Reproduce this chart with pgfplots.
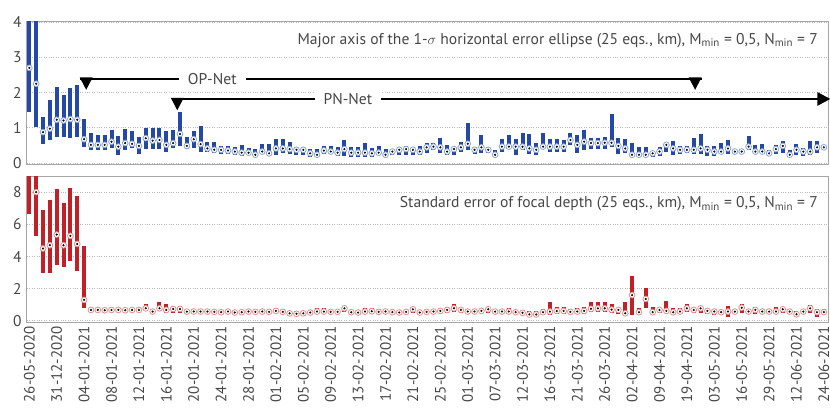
\documentclass[border=0pt]{standalone}
\usepackage{fontspec}
\setmainfont{PT Sans}
\usepackage{pgfplots}
\pgfplotsset{compat=1.18}
\usepackage{pgfplotstable}
\usetikzlibrary{arrows.meta}

\definecolor{bluebar}{RGB}{35,72,168}
\definecolor{bluering}{RGB}{140,165,215}
\definecolor{redbar}{RGB}{192,32,38}
\definecolor{redring}{RGB}{235,140,140}
\definecolor{textgray}{RGB}{70,70,70}

\pgfplotstableread{
x lo hi med
0 1.46 5 2.70
1 1.03 5 2.25
2 0.55 1.32 0.88
3 0.66 1.79 0.98
4 0.75 2.17 1.23
5 0.75 1.92 1.21
6 0.71 2.12 1.25
7 0.75 2.22 1.23
8 0.47 1.25 0.68
9 0.38 0.87 0.52
10 0.38 0.80 0.52
11 0.38 0.80 0.52
12 0.42 0.94 0.61
13 0.22 0.78 0.47
14 0.38 0.97 0.57
15 0.42 0.92 0.55
16 0.26 0.74 0.49
17 0.41 1.00 0.71
18 0.41 1.00 0.64
19 0.41 1.00 0.66
20 0.33 0.92 0.52
21 0.42 0.94 0.57
22 0.49 1.46 0.83
23 0.40 0.75 0.49
24 0.42 0.90 0.68
25 0.33 1.06 0.54
26 0.33 0.61 0.42
27 0.28 0.61 0.38
28 0.26 0.49 0.38
29 0.26 0.49 0.36
30 0.24 0.45 0.33
31 0.21 0.52 0.30
32 0.24 0.42 0.30
33 0.19 0.40 0.24
34 0.26 0.55 0.33
35 0.21 0.55 0.28
36 0.24 0.68 0.42
37 0.30 0.68 0.42
38 0.26 0.60 0.40
39 0.24 0.47 0.38
40 0.24 0.47 0.38
41 0.17 0.40 0.28
42 0.19 0.40 0.24
43 0.26 0.49 0.36
44 0.26 0.49 0.33
45 0.21 0.47 0.30
46 0.21 0.66 0.40
47 0.19 0.47 0.30
48 0.19 0.47 0.30
49 0.17 0.57 0.30
50 0.19 0.42 0.28
51 0.24 0.49 0.30
52 0.17 0.40 0.24
53 0.24 0.40 0.33
54 0.24 0.45 0.38
55 0.24 0.49 0.40
56 0.24 0.47 0.38
57 0.24 0.49 0.33
58 0.30 0.57 0.45
59 0.38 0.58 0.47
60 0.28 0.71 0.45
61 0.24 0.52 0.33
62 0.24 0.47 0.40
63 0.33 0.61 0.45
64 0.38 1.15 0.55
65 0.26 0.47 0.38
66 0.28 0.80 0.45
67 0.28 0.47 0.38
68 0.17 0.38 0.24
69 0.33 0.68 0.47
70 0.40 0.80 0.47
71 0.24 0.68 0.47
72 0.38 0.85 0.47
73 0.26 0.83 0.42
74 0.24 0.57 0.38
75 0.40 0.87 0.47
76 0.33 0.68 0.47
77 0.33 0.68 0.47
78 0.33 0.66 0.47
79 0.52 0.87 0.66
80 0.30 0.80 0.52
81 0.38 0.94 0.61
82 0.40 0.71 0.57
83 0.40 0.71 0.57
84 0.40 0.75 0.58
85 0.47 1.40 0.58
86 0.26 0.71 0.49
87 0.30 0.68 0.42
88 0.17 0.57 0.24
89 0.17 0.47 0.24
90 0.17 0.47 0.24
91 0.17 0.33 0.28
92 0.21 0.47 0.33
93 0.33 0.58 0.52
94 0.24 0.64 0.42
95 0.26 0.49 0.38
96 0.30 0.49 0.38
97 0.26 0.71 0.38
98 0.26 0.83 0.42
99 0.21 0.49 0.38
100 0.21 0.49 0.33
101 0.26 0.57 0.33
102 0.26 0.66 0.42
103 0.26 0.38 0.33
104 0.26 0.38 0.33
105 0.38 0.77 0.47
106 0.26 0.52 0.33
107 0.26 0.55 0.33
108 0.21 0.38 0.28
109 0.26 0.52 0.40
110 0.30 0.64 0.49
111 0.17 0.38 0.24
112 0.24 0.55 0.38
113 0.21 0.42 0.33
114 0.24 0.64 0.33
115 0.30 0.64 0.45
116 0.38 0.52 0.45
}\topdata

\pgfplotstableread{
x lo hi med mk
0 6.66 12 9.6 nan
1 5.28 12 8.0 8.0
2 3.0 6.87 4.5 4.5
3 3.0 7.53 4.7 4.7
4 3.5 8.2 5.36 5.36
5 3.36 7.34 4.7 4.7
6 3.7 8.25 5.28 5.28
7 3.1 7.75 4.78 4.78
8 0.78 4.66 1.3 1.3
9 0.55 0.78 0.68 0.68
10 0.55 0.78 0.68 0.68
11 0.55 0.78 0.66 0.66
12 0.55 0.78 0.68 0.68
13 0.56 0.82 0.68 0.68
14 0.52 0.76 0.66 0.66
15 0.55 0.78 0.68 0.68
16 0.55 0.84 0.68 0.68
17 0.60 1.03 0.78 0.78
18 0.48 0.72 0.58 0.58
19 0.60 1.20 0.78 0.78
20 0.47 1.03 0.68 0.68
21 0.47 0.93 0.74 0.74
22 0.47 0.93 0.74 0.74
23 0.48 0.68 0.58 0.58
24 0.48 0.68 0.58 0.58
25 0.46 0.68 0.58 0.58
26 0.48 0.70 0.58 0.58
27 0.46 0.68 0.56 0.56
28 0.44 0.68 0.54 0.54
29 0.48 0.72 0.58 0.58
30 0.42 0.66 0.52 0.52
31 0.44 0.68 0.54 0.54
32 0.46 0.72 0.58 0.58
33 0.44 0.70 0.56 0.56
34 0.46 0.70 0.58 0.58
35 0.45 0.70 0.56 0.56
36 0.48 0.82 0.62 0.62
37 0.45 0.72 0.56 0.56
38 0.40 0.62 0.47 0.47
39 0.38 0.60 0.44 0.44
40 0.40 0.62 0.47 0.47
41 0.42 0.66 0.52 0.52
42 0.47 0.82 0.58 0.58
43 0.48 0.78 0.58 0.58
44 0.45 0.70 0.56 0.56
45 0.45 0.70 0.56 0.56
46 0.55 0.88 0.78 0.78
47 0.44 0.66 0.54 0.54
48 0.42 0.66 0.52 0.52
49 0.47 0.78 0.58 0.58
50 0.48 0.82 0.60 0.60
51 0.45 0.72 0.56 0.56
52 0.47 0.75 0.58 0.58
53 0.44 0.70 0.54 0.54
54 0.42 0.68 0.52 0.52
55 0.45 0.70 0.56 0.56
56 0.52 0.80 0.72 0.72
57 0.42 0.66 0.52 0.52
58 0.45 0.70 0.56 0.56
59 0.47 0.72 0.58 0.58
60 0.48 0.76 0.62 0.62
61 0.52 0.89 0.68 0.68
62 0.56 1.05 0.78 0.78
63 0.50 0.82 0.68 0.68
64 0.45 0.72 0.58 0.58
65 0.45 0.70 0.58 0.58
66 0.47 0.74 0.62 0.62
67 0.50 0.82 0.72 0.72
68 0.44 0.70 0.58 0.58
69 0.45 0.72 0.58 0.58
70 0.48 0.82 0.58 0.58
71 0.42 0.68 0.54 0.54
72 0.40 0.66 0.50 0.50
73 0.34 0.60 0.40 0.40
74 0.34 0.62 0.40 0.40
75 0.44 0.72 0.54 0.54
76 0.34 1.15 0.58 0.58
77 0.45 0.89 0.62 0.62
78 0.45 0.85 0.62 0.62
79 0.42 0.72 0.56 0.56
80 0.45 0.80 0.58 0.58
81 0.45 0.89 0.62 0.62
82 0.55 1.15 0.75 0.75
83 0.55 1.15 0.78 0.78
84 0.55 1.15 0.78 0.78
85 0.50 1.03 0.70 0.70
86 0.45 0.76 0.68 0.68
87 0.37 1.15 0.47 0.47
88 0.37 2.80 1.60 1.60
89 0.42 0.82 0.54 0.54
90 0.78 2.06 1.36 1.36
91 0.37 0.89 0.54 0.54
92 0.48 0.80 0.68 0.68
93 0.47 1.24 0.62 0.62
94 0.45 0.82 0.54 0.54
95 0.45 0.82 0.58 0.58
96 0.55 1.03 0.78 0.78
97 0.50 0.78 0.68 0.68
98 0.50 0.89 0.78 0.78
99 0.45 0.75 0.62 0.62
100 0.37 0.72 0.58 0.58
101 0.40 0.70 0.54 0.54
102 0.27 0.95 0.58 0.58
103 0.45 0.75 0.58 0.58
104 0.52 1.03 0.82 0.82
105 0.45 0.72 0.58 0.58
106 0.40 0.89 0.68 0.68
107 0.45 0.72 0.58 0.58
108 0.45 0.72 0.58 0.58
109 0.42 0.89 0.58 0.58
110 0.50 0.80 0.72 0.72
111 0.45 0.72 0.58 0.58
112 0.30 0.62 0.41 0.41
113 0.45 0.72 0.58 0.58
114 0.52 0.98 0.78 0.78
115 0.27 0.72 0.54 0.54
116 0.37 0.72 0.54 0.54
}\botdata

\pgfplotsset{
  panel/.style={
    scale only axis, width=801pt,
    xmin=-0.34, xmax=116.6,
    axis line style={black!35, line width=1pt},
    ymajorgrids,
    grid style={black!28, dotted, line width=0.9pt},
    tick style={draw=none},
    yticklabel style={font=\fontsize{15.5}{15.5}\selectfont, text=textgray, xshift=-2pt},
    /pgf/number format/assume math mode=true,
    clip mode=individual,
  },
}
\tikzset{ttl/.style={font=\fontsize{15.6}{18}\selectfont, text=textgray, inner sep=0pt}}

\begin{document}
\begin{tikzpicture}[x=1pt,y=1pt]
\useasboundingbox (0,0) rectangle (830,407);

% ---------- top panel ----------
\begin{axis}[panel, at={(27pt,242pt)}, anchor=south west,
  height=143pt, ymin=-0.05, ymax=4, ytick={0,1,2,3,4},
  xtick=\empty]
\addplot[only marks, mark=none,
  error bars/.cd, y dir=both, y explicit,
  error mark=none,
  error bar style={draw=bluebar, line width=4pt}]
  table[x=x, y=med,
    y error plus expr=\thisrow{hi}-\thisrow{med},
    y error minus expr=\thisrow{med}-\thisrow{lo}] {\topdata};
\addplot[only marks, mark=*, mark size=2.9pt,
  mark options={fill=white, draw=bluering, line width=0.8pt}]
  table[x=x, y=med] {\topdata};
\addplot[only marks, mark=*, mark size=0.85pt,
  mark options={fill=black!85, draw=none}]
  table[x=x, y=med] {\topdata};

% OP-Net
\draw[line width=2.5pt] (axis cs:7.4,2.38) -- (axis cs:98.2,2.38);
\fill (axis cs:8.3,2.08) -- ++(-6.5pt,12.5pt) -- ++(13pt,0pt) -- cycle;
\fill (axis cs:97.2,2.08) -- ++(-6.5pt,12.5pt) -- ++(13pt,0pt) -- cycle;
\node[fill=white, inner xsep=9pt, inner ysep=2pt, font=\fontsize{15.6}{18}\selectfont, text=textgray]
  at (axis cs:26.7,2.38) {OP-Net};
% PN-Net
\draw[line width=2.5pt, -{Triangle[length=13pt,width=13pt]}] (axis cs:20.8,1.82) -- (axis cs:116.95,1.82);
\fill (axis cs:21.6,1.50) -- ++(-6.5pt,12.5pt) -- ++(13pt,0pt) -- cycle;
\node[fill=white, inner xsep=9pt, inner ysep=2pt, font=\fontsize{15.6}{18}\selectfont, text=textgray]
  at (axis cs:46.5,1.82) {PN-Net};

\node[ttl, anchor=north east] at (rel axis cs:0.9875,0.925)
  {Major axis of the 1-$\sigma$ horizontal error ellipse (25 eqs., km), M\textsubscript{min} = 0,5, N\textsubscript{min} = 7};
\end{axis}

% ---------- bottom panel ----------
\begin{axis}[panel, at={(27pt,84.5pt)}, anchor=south west,
  height=146.5pt, ymin=-0.1, ymax=9, ytick={0,2,4,6,8},
  xtick={0,4,...,116},
  xticklabels={26-05-2020,31-12-2020,04-01-2021,08-01-2021,12-01-2021,16-01-2021,20-01-2021,24-01-2021,28-01-2021,01-02-2021,05-02-2021,09-02-2021,13-02-2021,17-02-2021,21-02-2021,25-02-2021,01-03-2021,07-03-2021,12-03-2021,16-03-2021,21-03-2021,26-03-2021,02-04-2021,09-04-2021,19-04-2021,03-05-2021,16-05-2021,29-05-2021,12-06-2021,24-06-2021},
  xticklabel style={rotate=90, anchor=east, font=\fontsize{15}{15}\selectfont, text=textgray}]
\addplot[only marks, mark=none,
  error bars/.cd, y dir=both, y explicit,
  error mark=none,
  error bar style={draw=redbar, line width=4pt}]
  table[x=x, y=med,
    y error plus expr=\thisrow{hi}-\thisrow{med},
    y error minus expr=\thisrow{med}-\thisrow{lo}] {\botdata};
\addplot[only marks, mark=*, mark size=2.9pt,
  mark options={fill=white, draw=redring, line width=0.8pt}]
  table[x=x, y=mk] {\botdata};
\addplot[only marks, mark=*, mark size=0.85pt,
  mark options={fill=black!85, draw=none}]
  table[x=x, y=mk] {\botdata};

\node[ttl, anchor=north east] at (rel axis cs:0.9875,0.859)
  {Standard error of focal depth (25 eqs., km), M\textsubscript{min} = 0,5, N\textsubscript{min} = 7};
\end{axis}
\end{tikzpicture}
\end{document}
